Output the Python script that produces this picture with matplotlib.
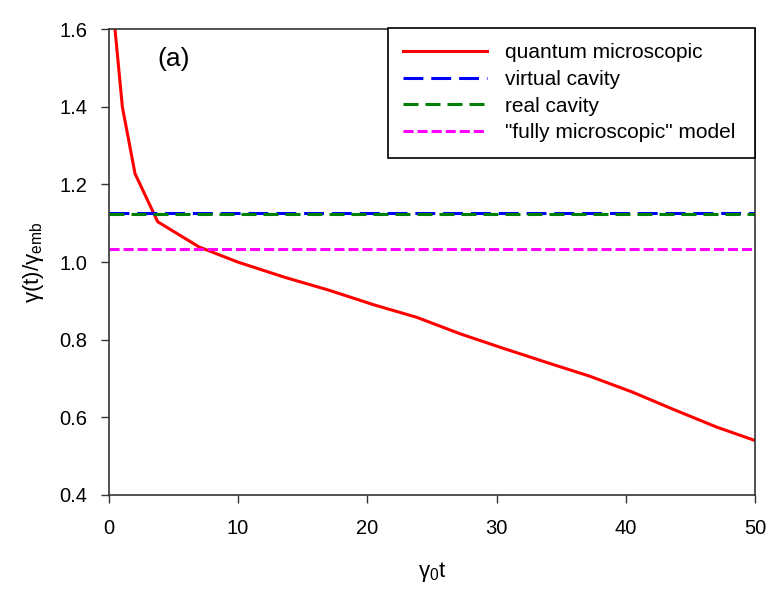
import matplotlib
matplotlib.use('Agg')
import matplotlib.pyplot as plt

plt.rcParams['font.family'] = ['Liberation Sans', 'DejaVu Sans']
plt.rcParams['mathtext.fontset'] = 'custom'
plt.rcParams['mathtext.rm'] = 'Liberation Sans'
plt.rcParams['mathtext.it'] = 'Liberation Sans'

# quantum microscopic curve
t_q = [0.36, 1.07, 2.05, 3.8, 7.0, 10.0, 13.7, 17.0, 20.5, 23.8, 27.2, 30.5, 34.0, 37.2, 40.5, 43.7, 47.0, 50.0]
g_q = [1.65, 1.40, 1.228, 1.104, 1.039, 1.0, 0.96, 0.928, 0.89, 0.858, 0.815, 0.778, 0.74, 0.706, 0.665, 0.62, 0.575, 0.54]

t_flat = [0, 50]
virtual = 1.126
real = 1.123
fully = 1.034

labels = ['quantum microscopic', 'virtual cavity', 'real cavity', '"fully microscopic" model']

fig = plt.figure(figsize=(7.84, 5.96), dpi=100)
ax = fig.add_axes([0.1384, 0.1695, 0.9635 - 0.1384, 0.951 - 0.1695])

lw = 2.2
ax.plot(t_q, g_q, color='#ff0000', lw=lw, label=labels[0])
ax.plot(t_flat, [virtual, virtual], color='#0000ff', lw=lw, dashes=(6.5, 2.6), label=labels[1])
ax.plot(t_flat, [real, real], color='#008000', lw=lw, dashes=(4.9, 2.3), label=labels[2])
ax.plot(t_flat, [fully, fully], color='#ff00ff', lw=lw, dashes=(3.3, 1.3), label=labels[3])

ax.set_xlim(0, 50)
ax.set_ylim(0.4, 1.6)
ax.set_xticks([0, 10, 20, 30, 40, 50])
ax.set_yticks([0.4, 0.6, 0.8, 1.0, 1.2, 1.4, 1.6])
ax.set_yticklabels(['0.4', '0.6', '0.8', '1.0', '1.2', '1.4', '1.6'])
ax.tick_params(axis='both', direction='out', length=6, width=1, color='#333333')
ax.tick_params(axis='x', labelsize=14.5, pad=11)
ax.tick_params(axis='y', labelsize=14.5, pad=9)
for s in ax.spines.values():
    s.set_linewidth(1.2)
    s.set_color('#333333')

ax.set_xlabel('γ$_0$t', fontsize=16, labelpad=16)
ax.set_ylabel('γ(t)/γ$_{\\mathrm{emb}}$', fontsize=16, labelpad=10)

ax.text(0.076, 0.935, '(a)', transform=ax.transAxes, fontsize=19, va='center', ha='left')

# legend box spans from ~x=21.5 to the right axis
leg = ax.legend(loc='upper left', bbox_to_anchor=(0.432, 0.0, 0.568, 1.003), mode='expand',
                fontsize=15, handlelength=4.0, fancybox=False, framealpha=1,
                edgecolor='black', borderaxespad=0, borderpad=0.74,
                labelspacing=0.37, handletextpad=0.87)
leg.get_frame().set_linewidth(1.2)

fig.savefig('out.png', dpi=100)
